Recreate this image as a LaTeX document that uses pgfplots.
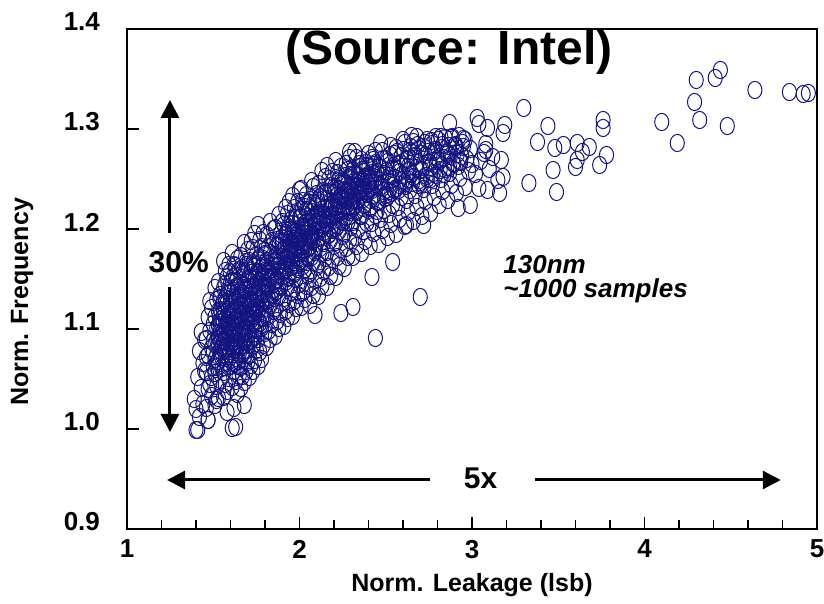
\documentclass[border=0pt]{standalone}
\usepackage{fontspec}
\setmainfont{Liberation Sans}
\usepackage{pgfplots}
\pgfplotsset{compat=1.18}
\usetikzlibrary{arrows.meta}
\definecolor{navy}{RGB}{20,20,128}
\begin{document}
\begin{tikzpicture}
\path[use as bounding box] (-63.5pt,-37.5pt) rectangle (348.5pt,264.5pt);
\begin{axis}[
 scale only axis, width=345pt, height=250pt,
 xmin=1, xmax=5, ymin=0.9, ymax=1.4,
 xtick={1,2,3,4,5}, minor x tick num=4,
 ytick={0.9,1.0,1.1,1.2,1.3,1.4},
 tick align=inside, xtick pos=bottom, ytick pos=left,
 major tick length=6pt, minor tick length=4.5pt,
 axis line style={line width=1.1pt},
 every tick/.append style={black, line width=0.8pt},
 /pgf/number format/assume math mode=true,
 tick label style={font=\bfseries\fontsize{13}{15}\selectfont},
 yticklabel style={/pgf/number format/fixed, /pgf/number format/fixed zerofill, /pgf/number format/precision=1, xshift=-10pt, yshift=3.5pt},
 xticklabel style={yshift=-2pt},
 xlabel={Norm. Leakage (lsb)}, ylabel={Norm. Frequency},
 label style={font=\bfseries\fontsize{12.5}{15}\selectfont},
 xlabel style={at={(axis description cs:0.5,-0.112)}, anchor=center},
 ylabel style={at={(axis description cs:-0.152,0.454)}, anchor=center},
]
\addplot[only marks, mark=o, mark size=4.3pt, navy, mark options={line width=0.5pt, xscale=0.82}] table[row sep=\\] {
x y\\
1.40 0.999\\ 1.42 1.012\\ 1.44 1.025\\ 1.39 1.030\\ 1.43 1.041\\ 1.41 1.052\\ 1.44 1.066\\ 1.42 1.078\\ 1.45 1.089\\ 1.43 1.097\\ 1.40 1.020\\ 1.45 1.058\\
1.47 1.009\\ 1.46 1.021\\ 1.49 1.033\\ 1.48 1.045\\ 1.46 1.057\\ 1.50 1.062\\ 1.47 1.074\\ 1.49 1.081\\ 1.46 1.090\\ 1.48 1.098\\ 1.50 1.105\\ 1.47 1.112\\ 1.49 1.121\\ 1.48 1.128\\ 1.46 1.072\\ 1.50 1.088\\ 1.47 1.040\\ 1.49 1.052\\
1.51 1.024\\ 1.53 1.031\\ 1.52 1.043\\ 1.54 1.049\\ 1.51 1.056\\ 1.55 1.061\\ 1.53 1.068\\ 1.52 1.074\\ 1.54 1.079\\ 1.51 1.085\\ 1.53 1.091\\ 1.55 1.095\\ 1.52 1.101\\ 1.54 1.106\\ 1.51 1.112\\ 1.53 1.118\\ 1.55 1.123\\ 1.52 1.129\\ 1.54 1.134\\ 1.51 1.141\\ 1.53 1.147\\ 1.55 1.083\\ 1.52 1.089\\ 1.54 1.097\\ 1.51 1.070\\ 1.53 1.104\\ 1.55 1.110\\ 1.52 1.062\\
1.56 1.032\\ 1.58 1.038\\ 1.57 1.045\\ 1.59 1.051\\ 1.56 1.057\\ 1.60 1.063\\ 1.58 1.066\\ 1.57 1.071\\ 1.59 1.075\\ 1.56 1.079\\ 1.60 1.083\\ 1.58 1.087\\ 1.57 1.091\\ 1.59 1.095\\ 1.56 1.099\\ 1.60 1.102\\ 1.58 1.106\\ 1.57 1.110\\ 1.59 1.114\\ 1.56 1.118\\ 1.60 1.122\\ 1.58 1.126\\ 1.57 1.131\\ 1.59 1.136\\ 1.56 1.141\\ 1.60 1.146\\ 1.58 1.152\\ 1.57 1.158\\ 1.59 1.164\\ 1.56 1.168\\ 1.58 1.093\\ 1.57 1.081\\ 1.59 1.104\\ 1.60 1.115\\ 1.56 1.088\\ 1.58 1.073\\
1.63 1.002\\ 1.62 1.021\\ 1.64 1.035\\ 1.61 1.042\\ 1.63 1.048\\ 1.65 1.053\\ 1.62 1.058\\ 1.64 1.063\\ 1.61 1.067\\ 1.63 1.071\\ 1.65 1.075\\ 1.62 1.079\\ 1.64 1.083\\ 1.61 1.087\\ 1.63 1.091\\ 1.65 1.095\\ 1.62 1.098\\ 1.64 1.102\\ 1.61 1.106\\ 1.63 1.110\\ 1.65 1.113\\ 1.62 1.117\\ 1.64 1.121\\ 1.61 1.125\\ 1.63 1.129\\ 1.65 1.133\\ 1.62 1.138\\ 1.64 1.143\\ 1.61 1.148\\ 1.63 1.153\\ 1.65 1.159\\ 1.62 1.164\\ 1.64 1.170\\ 1.61 1.176\\ 1.63 1.085\\ 1.62 1.094\\ 1.64 1.112\\ 1.65 1.068\\ 1.61 1.100\\ 1.63 1.120\\
1.66 1.041\\ 1.68 1.047\\ 1.67 1.053\\ 1.69 1.058\\ 1.66 1.062\\ 1.70 1.067\\ 1.68 1.071\\ 1.67 1.075\\ 1.69 1.079\\ 1.66 1.083\\ 1.70 1.087\\ 1.68 1.091\\ 1.67 1.095\\ 1.69 1.099\\ 1.66 1.103\\ 1.70 1.107\\ 1.68 1.111\\ 1.67 1.115\\ 1.69 1.119\\ 1.66 1.123\\ 1.70 1.127\\ 1.68 1.131\\ 1.67 1.135\\ 1.69 1.140\\ 1.66 1.145\\ 1.70 1.150\\ 1.68 1.155\\ 1.67 1.161\\ 1.69 1.167\\ 1.66 1.173\\ 1.70 1.179\\ 1.68 1.186\\ 1.67 1.100\\ 1.69 1.109\\ 1.66 1.116\\ 1.70 1.092\\ 1.68 1.124\\ 1.67 1.143\\ 1.69 1.085\\ 1.66 1.133\\
1.71 1.052\\ 1.73 1.058\\ 1.72 1.064\\ 1.74 1.069\\ 1.71 1.074\\ 1.75 1.079\\ 1.73 1.083\\ 1.72 1.088\\ 1.74 1.092\\ 1.71 1.096\\ 1.75 1.101\\ 1.73 1.105\\ 1.72 1.109\\ 1.74 1.113\\ 1.71 1.117\\ 1.75 1.121\\ 1.73 1.126\\ 1.72 1.130\\ 1.74 1.135\\ 1.71 1.140\\ 1.75 1.145\\ 1.73 1.150\\ 1.72 1.156\\ 1.74 1.162\\ 1.71 1.168\\ 1.75 1.174\\ 1.73 1.181\\ 1.72 1.188\\ 1.74 1.195\\ 1.71 1.112\\ 1.73 1.119\\ 1.75 1.132\\ 1.72 1.142\\ 1.74 1.099\\ 1.71 1.128\\ 1.73 1.166\\
1.76 1.063\\ 1.78 1.070\\ 1.77 1.077\\ 1.79 1.084\\ 1.76 1.090\\ 1.80 1.096\\ 1.78 1.101\\ 1.77 1.106\\ 1.79 1.111\\ 1.76 1.116\\ 1.80 1.121\\ 1.78 1.126\\ 1.77 1.131\\ 1.79 1.136\\ 1.76 1.141\\ 1.80 1.146\\ 1.78 1.151\\ 1.77 1.157\\ 1.79 1.163\\ 1.76 1.169\\ 1.80 1.175\\ 1.78 1.182\\ 1.77 1.189\\ 1.79 1.196\\ 1.76 1.204\\ 1.78 1.138\\ 1.77 1.148\\ 1.80 1.158\\ 1.76 1.124\\ 1.79 1.170\\
1.81 1.082\\ 1.83 1.090\\ 1.82 1.098\\ 1.84 1.105\\ 1.81 1.112\\ 1.85 1.118\\ 1.83 1.124\\ 1.82 1.130\\ 1.84 1.135\\ 1.81 1.140\\ 1.85 1.145\\ 1.83 1.150\\ 1.82 1.155\\ 1.84 1.160\\ 1.81 1.165\\ 1.85 1.170\\ 1.83 1.176\\ 1.82 1.182\\ 1.84 1.188\\ 1.81 1.194\\ 1.85 1.200\\ 1.83 1.207\\ 1.82 1.143\\ 1.84 1.152\\ 1.81 1.128\\ 1.85 1.163\\
1.86 1.093\\ 1.88 1.101\\ 1.87 1.108\\ 1.89 1.115\\ 1.86 1.121\\ 1.90 1.127\\ 1.88 1.133\\ 1.87 1.138\\ 1.89 1.143\\ 1.86 1.148\\ 1.90 1.153\\ 1.88 1.158\\ 1.87 1.163\\ 1.89 1.168\\ 1.86 1.173\\ 1.90 1.178\\ 1.88 1.183\\ 1.87 1.189\\ 1.89 1.195\\ 1.86 1.201\\ 1.90 1.207\\ 1.88 1.214\\ 1.87 1.150\\ 1.89 1.160\\ 1.86 1.137\\ 1.90 1.186\\
1.91 1.103\\ 1.93 1.111\\ 1.92 1.118\\ 1.94 1.125\\ 1.91 1.131\\ 1.95 1.137\\ 1.93 1.142\\ 1.92 1.147\\ 1.94 1.152\\ 1.91 1.157\\ 1.95 1.162\\ 1.93 1.166\\ 1.92 1.171\\ 1.94 1.175\\ 1.91 1.180\\ 1.95 1.184\\ 1.93 1.189\\ 1.92 1.194\\ 1.94 1.199\\ 1.91 1.204\\ 1.95 1.209\\ 1.93 1.215\\ 1.92 1.221\\ 1.94 1.227\\ 1.91 1.168\\ 1.95 1.177\\ 1.93 1.186\\ 1.92 1.160\\
1.96 1.113\\ 1.98 1.121\\ 1.97 1.128\\ 1.99 1.134\\ 1.96 1.140\\ 2.00 1.145\\ 1.98 1.150\\ 1.97 1.155\\ 1.99 1.160\\ 1.96 1.164\\ 2.00 1.168\\ 1.98 1.172\\ 1.97 1.176\\ 1.99 1.180\\ 1.96 1.184\\ 2.00 1.188\\ 1.98 1.192\\ 1.97 1.196\\ 1.99 1.200\\ 1.96 1.205\\ 2.00 1.210\\ 1.98 1.215\\ 1.97 1.221\\ 1.99 1.227\\ 1.96 1.233\\ 2.00 1.239\\ 1.98 1.182\\ 1.97 1.190\\ 1.99 1.171\\ 1.96 1.198\\
2.01 1.122\\ 2.03 1.130\\ 2.02 1.137\\ 2.04 1.143\\ 2.01 1.149\\ 2.05 1.154\\ 2.03 1.159\\ 2.02 1.163\\ 2.04 1.167\\ 2.01 1.171\\ 2.05 1.175\\ 2.03 1.179\\ 2.02 1.183\\ 2.04 1.187\\ 2.01 1.191\\ 2.05 1.195\\ 2.03 1.199\\ 2.02 1.203\\ 2.04 1.207\\ 2.01 1.212\\ 2.05 1.217\\ 2.03 1.222\\ 2.02 1.228\\ 2.04 1.234\\ 2.01 1.240\\ 2.03 1.188\\ 2.02 1.196\\ 2.05 1.181\\ 2.04 1.201\\ 2.01 1.178\\
2.06 1.124\\ 2.08 1.134\\ 2.07 1.142\\ 2.09 1.149\\ 2.06 1.156\\ 2.10 1.162\\ 2.08 1.167\\ 2.07 1.172\\ 2.09 1.177\\ 2.06 1.182\\ 2.10 1.186\\ 2.08 1.190\\ 2.07 1.194\\ 2.09 1.198\\ 2.06 1.202\\ 2.10 1.207\\ 2.08 1.212\\ 2.07 1.217\\ 2.09 1.223\\ 2.06 1.229\\ 2.10 1.235\\ 2.08 1.242\\ 2.07 1.248\\ 2.09 1.205\\ 2.06 1.192\\ 2.10 1.215\\
2.11 1.133\\ 2.13 1.143\\ 2.12 1.151\\ 2.14 1.158\\ 2.11 1.165\\ 2.15 1.171\\ 2.13 1.176\\ 2.12 1.181\\ 2.14 1.186\\ 2.11 1.191\\ 2.15 1.196\\ 2.13 1.200\\ 2.12 1.205\\ 2.14 1.210\\ 2.11 1.215\\ 2.15 1.220\\ 2.13 1.226\\ 2.12 1.232\\ 2.14 1.238\\ 2.11 1.245\\ 2.15 1.252\\ 2.13 1.258\\ 2.12 1.212\\ 2.14 1.197\\
2.16 1.142\\ 2.18 1.153\\ 2.17 1.162\\ 2.19 1.170\\ 2.16 1.177\\ 2.20 1.183\\ 2.18 1.189\\ 2.17 1.194\\ 2.19 1.199\\ 2.16 1.204\\ 2.20 1.209\\ 2.18 1.214\\ 2.17 1.219\\ 2.19 1.224\\ 2.16 1.230\\ 2.20 1.236\\ 2.18 1.243\\ 2.17 1.250\\ 2.19 1.257\\ 2.16 1.263\\ 2.18 1.221\\ 2.20 1.201\\
2.21 1.152\\ 2.23 1.163\\ 2.22 1.172\\ 2.24 1.180\\ 2.21 1.187\\ 2.25 1.193\\ 2.23 1.198\\ 2.22 1.203\\ 2.24 1.208\\ 2.21 1.213\\ 2.25 1.218\\ 2.23 1.223\\ 2.22 1.228\\ 2.24 1.233\\ 2.21 1.238\\ 2.25 1.244\\ 2.23 1.250\\ 2.22 1.256\\ 2.24 1.262\\ 2.21 1.268\\ 2.23 1.216\\ 2.25 1.231\\
2.26 1.161\\ 2.28 1.172\\ 2.27 1.181\\ 2.29 1.189\\ 2.26 1.196\\ 2.30 1.202\\ 2.28 1.207\\ 2.27 1.212\\ 2.29 1.217\\ 2.26 1.222\\ 2.30 1.227\\ 2.28 1.232\\ 2.27 1.237\\ 2.29 1.242\\ 2.26 1.247\\ 2.30 1.253\\ 2.28 1.259\\ 2.27 1.265\\ 2.29 1.271\\ 2.26 1.230\\ 2.28 1.220\\ 2.30 1.240\\
2.31 1.172\\ 2.33 1.183\\ 2.32 1.192\\ 2.34 1.200\\ 2.31 1.207\\ 2.35 1.213\\ 2.33 1.218\\ 2.32 1.223\\ 2.34 1.228\\ 2.31 1.233\\ 2.35 1.238\\ 2.33 1.243\\ 2.32 1.248\\ 2.34 1.253\\ 2.31 1.259\\ 2.35 1.265\\ 2.33 1.271\\ 2.32 1.277\\ 2.34 1.236\\ 2.31 1.221\\
2.36 1.176\\ 2.38 1.188\\ 2.37 1.198\\ 2.39 1.206\\ 2.36 1.213\\ 2.40 1.219\\ 2.38 1.225\\ 2.37 1.230\\ 2.39 1.235\\ 2.36 1.240\\ 2.40 1.245\\ 2.38 1.251\\ 2.37 1.257\\ 2.39 1.263\\ 2.36 1.269\\ 2.40 1.275\\ 2.38 1.238\\ 2.37 1.221\\
2.41 1.183\\ 2.43 1.196\\ 2.42 1.206\\ 2.44 1.214\\ 2.41 1.221\\ 2.45 1.227\\ 2.43 1.233\\ 2.42 1.239\\ 2.44 1.245\\ 2.41 1.251\\ 2.45 1.257\\ 2.43 1.264\\ 2.42 1.271\\ 2.44 1.278\\ 2.41 1.240\\ 2.45 1.218\\
2.46 1.185\\ 2.48 1.199\\ 2.47 1.210\\ 2.49 1.219\\ 2.46 1.227\\ 2.50 1.234\\ 2.48 1.241\\ 2.47 1.248\\ 2.49 1.255\\ 2.46 1.262\\ 2.50 1.270\\ 2.48 1.278\\ 2.47 1.286\\ 2.49 1.238\\
2.51 1.192\\ 2.53 1.205\\ 2.52 1.215\\ 2.54 1.224\\ 2.51 1.232\\ 2.55 1.239\\ 2.53 1.246\\ 2.52 1.253\\ 2.54 1.260\\ 2.51 1.267\\ 2.55 1.275\\ 2.53 1.283\\ 2.52 1.238\\ 2.54 1.250\\
2.56 1.195\\ 2.58 1.210\\ 2.57 1.222\\ 2.59 1.232\\ 2.56 1.241\\ 2.60 1.249\\ 2.58 1.257\\ 2.57 1.265\\ 2.59 1.273\\ 2.56 1.281\\ 2.60 1.289\\ 2.58 1.244\\
2.61 1.203\\ 2.63 1.217\\ 2.62 1.229\\ 2.64 1.239\\ 2.61 1.247\\ 2.65 1.255\\ 2.63 1.262\\ 2.62 1.270\\ 2.64 1.278\\ 2.61 1.286\\ 2.65 1.293\\ 2.63 1.250\\
2.66 1.208\\ 2.68 1.222\\ 2.67 1.234\\ 2.69 1.244\\ 2.66 1.252\\ 2.70 1.259\\ 2.68 1.266\\ 2.67 1.273\\ 2.69 1.280\\ 2.66 1.287\\ 2.70 1.247\\ 2.68 1.292\\
2.71 1.213\\ 2.73 1.228\\ 2.72 1.240\\ 2.74 1.250\\ 2.71 1.259\\ 2.75 1.267\\ 2.73 1.274\\ 2.72 1.282\\ 2.74 1.289\\ 2.71 1.245\\
2.76 1.216\\ 2.78 1.232\\ 2.77 1.244\\ 2.79 1.254\\ 2.76 1.262\\ 2.80 1.270\\ 2.78 1.277\\ 2.77 1.285\\ 2.79 1.292\\ 2.76 1.250\\
2.81 1.224\\ 2.83 1.238\\ 2.82 1.250\\ 2.84 1.260\\ 2.81 1.268\\ 2.85 1.276\\ 2.83 1.284\\ 2.82 1.292\\ 2.84 1.255\\
2.86 1.229\\ 2.88 1.244\\ 2.87 1.256\\ 2.89 1.266\\ 2.86 1.275\\ 2.90 1.283\\ 2.88 1.291\\ 2.87 1.262\\
2.91 1.236\\ 2.93 1.251\\ 2.92 1.263\\ 2.94 1.273\\ 2.91 1.282\\ 2.95 1.290\\ 2.93 1.268\\
2.96 1.242\\ 2.98 1.258\\ 2.97 1.270\\ 2.99 1.280\\ 2.96 1.289\\ 3.00 1.265\\
3.02 1.255\\ 3.05 1.268\\ 3.08 1.285\\ 3.04 1.241\\ 3.07 1.276\\ 3.10 1.260\\
2.44 1.091\\ 2.70 1.132\\ 2.54 1.167\\ 2.42 1.152\\ 2.72 1.204\\ 2.31 1.122\\ 2.24 1.116\\ 2.09 1.114\\ 2.62 1.204\\
1.41 0.999\\ 1.61 1.001\\ 1.47 1.009\\ 1.58 1.017\\ 1.68 1.024\\ 1.52 1.029\\
4.30 1.349\\ 4.41 1.351\\ 4.44 1.359\\ 4.29 1.327\\ 4.32 1.309\\ 4.48 1.303\\ 4.64 1.339\\ 4.10 1.307\\ 4.19 1.286\\ 4.84 1.337\\ 4.92 1.335\\ 4.95 1.336\\
3.76 1.309\\ 3.76 1.301\\ 3.30 1.321\\ 3.44 1.303\\ 3.38 1.287\\ 3.33 1.246\\ 3.49 1.237\\ 3.47 1.259\\ 3.48 1.281\\ 3.53 1.284\\ 3.61 1.286\\ 3.61 1.269\\ 3.64 1.277\\ 3.60 1.262\\ 3.74 1.264\\ 3.78 1.274\\ 3.68 1.282\\
2.87 1.306\\ 3.03 1.311\\ 3.04 1.305\\ 3.09 1.301\\ 3.19 1.304\\ 3.18 1.296\\ 3.17 1.269\\ 3.18 1.252\\ 3.15 1.249\\ 3.09 1.239\\ 3.16 1.236\\ 3.12 1.272\\ 3.08 1.279\\ 2.99 1.224\\ 2.92 1.221\\ 2.29 1.277\\ 2.95 1.282\\
1.525 1.068\\ 1.535 1.112\\ 1.545 1.087\\ 1.555 1.126\\ 1.565 1.062\\ 1.575 1.099\\ 1.585 1.138\\ 1.595 1.078\\ 1.605 1.117\\ 1.615 1.152\\ 1.625 1.066\\ 1.635 1.104\\ 1.645 1.141\\ 1.655 1.082\\ 1.665 1.122\\ 1.675 1.158\\ 1.685 1.074\\ 1.695 1.113\\ 1.705 1.149\\ 1.715 1.089\\ 1.725 1.127\\ 1.735 1.163\\ 1.745 1.096\\ 1.755 1.134\\ 1.765 1.171\\ 1.775 1.104\\ 1.785 1.143\\ 1.795 1.178\\ 1.805 1.115\\ 1.815 1.152\\
1.528 1.093\\ 1.538 1.131\\ 1.548 1.072\\ 1.558 1.108\\ 1.568 1.145\\ 1.578 1.083\\ 1.588 1.119\\ 1.598 1.157\\ 1.608 1.091\\ 1.618 1.128\\ 1.628 1.163\\ 1.638 1.085\\ 1.648 1.123\\ 1.658 1.097\\ 1.668 1.136\\ 1.678 1.101\\ 1.688 1.139\\ 1.698 1.079\\ 1.708 1.121\\ 1.718 1.158\\ 1.728 1.107\\ 1.738 1.144\\ 1.748 1.118\\ 1.758 1.156\\ 1.768 1.121\\ 1.778 1.161\\ 1.788 1.126\\ 1.798 1.135\\ 1.808 1.168\\ 1.818 1.132\\
1.532 1.102\\ 1.542 1.119\\ 1.552 1.081\\ 1.562 1.095\\ 1.572 1.127\\ 1.582 1.108\\ 1.592 1.097\\ 1.602 1.136\\ 1.612 1.081\\ 1.622 1.109\\ 1.632 1.148\\ 1.642 1.094\\ 1.652 1.131\\ 1.662 1.109\\ 1.672 1.087\\ 1.682 1.126\\ 1.692 1.164\\ 1.702 1.098\\ 1.712 1.136\\ 1.722 1.117\\ 1.732 1.084\\ 1.742 1.151\\ 1.752 1.108\\ 1.762 1.142\\ 1.772 1.131\\ 1.782 1.112\\ 1.792 1.152\\ 1.802 1.143\\ 1.812 1.125\\ 1.822 1.158\\
1.852 1.131\\ 1.862 1.168\\ 1.872 1.149\\ 1.882 1.187\\ 1.892 1.142\\ 1.902 1.178\\ 1.912 1.158\\ 1.922 1.196\\ 1.932 1.151\\ 1.942 1.187\\ 1.952 1.168\\ 1.962 1.205\\ 1.972 1.157\\ 1.982 1.194\\ 1.992 1.176\\ 2.002 1.212\\ 2.012 1.166\\ 2.022 1.201\\ 2.032 1.184\\ 2.042 1.219\\ 2.052 1.172\\ 2.062 1.207\\ 2.072 1.192\\ 2.082 1.226\\ 2.092 1.181\\ 2.102 1.214\\ 2.112 1.199\\ 2.122 1.232\\ 2.132 1.188\\ 2.142 1.221\\
2.152 1.206\\ 2.162 1.237\\ 2.172 1.195\\ 2.182 1.228\\ 2.192 1.213\\ 2.202 1.242\\ 2.212 1.201\\ 2.222 1.234\\ 2.232 1.219\\ 2.242 1.247\\ 2.252 1.207\\ 2.262 1.239\\ 2.272 1.224\\ 2.282 1.251\\ 2.292 1.213\\ 2.302 1.244\\ 2.312 1.229\\ 2.322 1.255\\ 2.332 1.219\\ 2.342 1.248\\ 2.352 1.234\\ 2.362 1.259\\ 2.372 1.224\\ 2.382 1.252\\ 2.392 1.239\\ 2.402 1.262\\ 2.412 1.229\\ 2.422 1.256\\ 2.432 1.243\\ 2.442 1.266\\
1.857 1.152\\ 1.867 1.183\\ 1.877 1.163\\ 1.887 1.172\\ 1.897 1.191\\ 1.907 1.161\\ 1.917 1.181\\ 1.927 1.171\\ 1.937 1.201\\ 1.947 1.178\\ 1.957 1.186\\ 1.967 1.179\\ 1.977 1.211\\ 1.987 1.187\\ 1.997 1.197\\ 2.007 1.191\\ 2.017 1.219\\ 2.027 1.195\\ 2.037 1.206\\ 2.047 1.198\\ 2.057 1.226\\ 2.067 1.188\\ 2.077 1.211\\ 2.087 1.203\\ 2.097 1.198\\ 2.107 1.228\\ 2.117 1.209\\ 2.127 1.215\\ 2.137 1.204\\ 2.147 1.236\\
2.157 1.221\\ 2.167 1.214\\ 2.177 1.211\\ 2.187 1.243\\ 2.197 1.226\\ 2.207 1.222\\ 2.217 1.219\\ 2.227 1.248\\ 2.237 1.232\\ 2.247 1.229\\ 2.257 1.224\\ 2.267 1.253\\ 2.277 1.238\\ 2.287 1.234\\ 2.297 1.231\\ 2.307 1.258\\ 2.317 1.243\\ 2.327 1.239\\ 2.337 1.236\\ 2.347 1.262\\ 2.357 1.247\\ 2.367 1.244\\ 2.377 1.241\\ 2.387 1.266\\ 2.397 1.251\\ 2.407 1.248\\ 2.417 1.246\\ 2.427 1.269\\ 2.437 1.255\\ 2.447 1.251\\
2.455 1.228\\ 2.465 1.261\\ 2.475 1.243\\ 2.485 1.270\\ 2.495 1.231\\ 2.505 1.258\\ 2.515 1.247\\ 2.525 1.274\\ 2.535 1.236\\ 2.545 1.263\\ 2.555 1.251\\ 2.565 1.277\\ 2.575 1.239\\ 2.585 1.266\\ 2.595 1.254\\ 2.605 1.279\\ 2.615 1.243\\ 2.625 1.269\\ 2.635 1.258\\ 2.645 1.282\\ 2.655 1.246\\ 2.665 1.272\\ 2.675 1.261\\ 2.685 1.284\\ 2.695 1.249\\
2.705 1.275\\ 2.715 1.264\\ 2.725 1.286\\ 2.735 1.253\\ 2.745 1.277\\ 2.755 1.266\\ 2.765 1.288\\ 2.775 1.256\\ 2.785 1.279\\ 2.795 1.268\\ 2.805 1.289\\ 2.815 1.259\\ 2.825 1.281\\ 2.835 1.271\\ 2.845 1.291\\ 2.855 1.262\\ 2.865 1.283\\ 2.875 1.273\\ 2.885 1.292\\ 2.895 1.265\\ 2.905 1.284\\ 2.915 1.275\\ 2.925 1.293\\ 2.935 1.267\\ 2.945 1.286\\
};
\draw[line width=1.5pt, -{Triangle[length=9pt,width=9pt]}] (axis cs:1.249,1.196) -- (axis cs:1.249,1.329);
\draw[line width=1.5pt, -{Triangle[length=9pt,width=9pt]}] (axis cs:1.249,1.142) -- (axis cs:1.249,0.997);
\node[font=\bfseries\fontsize{15}{17}\selectfont] at (axis cs:1.30,1.167) {30\%};
\draw[line width=1.5pt, -{Triangle[length=9pt,width=9pt]}] (axis cs:2.757,0.949) -- (axis cs:1.232,0.949);
\draw[line width=1.5pt, -{Triangle[length=9pt,width=9pt]}] (axis cs:3.365,0.949) -- (axis cs:4.79,0.949);
\node[font=\bfseries\fontsize{15}{17}\selectfont] at (axis cs:3.05,0.951) {5x};
\node[anchor=west, align=left, inner sep=0pt, font=\bfseries\itshape\fontsize{13}{12}\selectfont] at (axis cs:3.18,1.150) {130nm\\\textasciitilde1000 samples};
\node[font=\bfseries\fontsize{24}{28}\selectfont] at (axis cs:2.867,1.377) {(Source: Intel)};
\end{axis}
\end{tikzpicture}
\end{document}
